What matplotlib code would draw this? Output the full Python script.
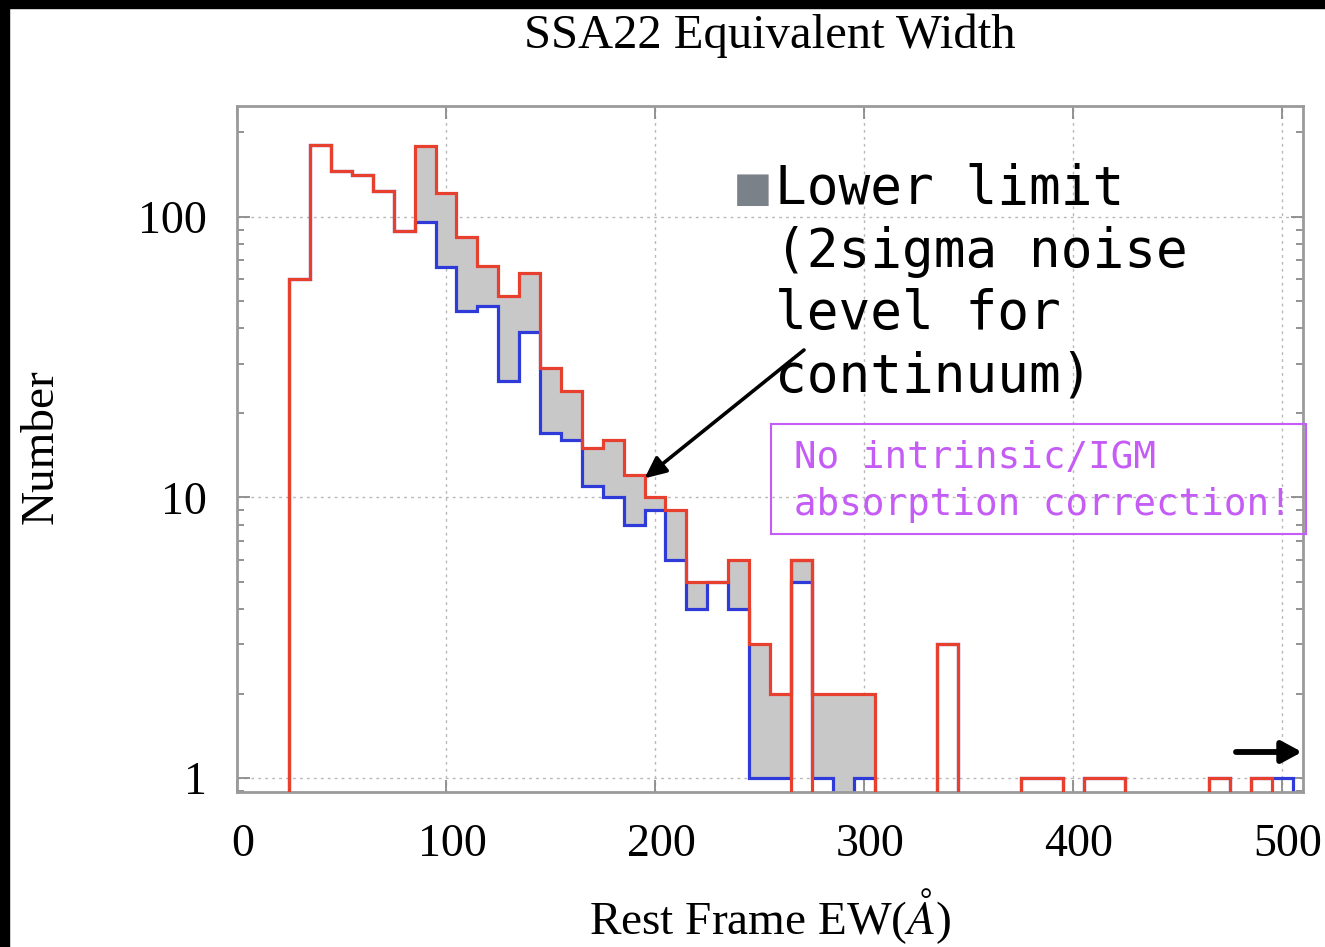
import numpy as np
import matplotlib
matplotlib.use("Agg")
import matplotlib.pyplot as plt
import matplotlib.transforms as mtransforms
from matplotlib.patches import Rectangle

# ---------------- data ----------------
bin_edges = np.arange(25, 506, 10)  # 25 ... 505, 48 bins
red_counts = [60, 180, 145, 141, 123, 89, 178, 121, 85, 67,
              52, 63, 29, 24, 15, 16, 12, 10, 9, 5,
              5, 6, 3, 2, 6, 2, 2, 2, 0, 0,
              0, 3, 0, 0, 0, 1, 1, 0, 1, 1,
              0, 0, 0, 0, 1, 0, 1, 0]
blue_counts = [60, 180, 145, 141, 123, 89, 96, 66, 46, 48,
               26, 39, 17, 16, 11, 10, 8, 9, 6, 4,
               5, 4, 1, 1, 5, 1, 0, 1, 0, 0,
               0, 3, 0, 0, 0, 1, 1, 0, 1, 1,
               0, 0, 0, 0, 1, 0, 1, 1]
red_full_outline_bins = [265]  # left edge of bins whose red outline drops to the axis

title = "SSA22 Equivalent Width"
xlabel = "Rest Frame EW($\\mathit{Å}$)"
ylabel = "Number"
xticks = [0, 100, 200, 300, 400, 500]
yticks = [1, 10, 100]
ytick_labels = ["1", "10", "100"]
note1 = "Lower limit\n(2sigma noise\nlevel for\ncontinuum)"
note2 = "No intrinsic/IGM\nabsorption correction!"

red_c = "#e8402f"
blue_c = "#2e3bd8"
fill_c = "#c8c8c8"
purple_c = "#c45cf5"

# ---------------- figure ----------------
plt.rcParams["mathtext.fontset"] = "stix"
serif = ["Liberation Serif", "DejaVu Serif"]
mono = ["DejaVu Sans Mono"]

W, H = 1325, 947
fig = plt.figure(figsize=(W / 100, H / 100), dpi=100)
L, R, T, B = 237, 1303, 106, 792
ax = fig.add_axes([L / W, 1 - B / H, (R - L) / W, (B - T) / H])

red = np.array(red_counts, dtype=float)
blue = np.array(blue_counts, dtype=float)
edges = np.array(bin_edges, dtype=float)

floor = np.maximum(blue, 0.5)
fill_top = np.where(red > blue, red, floor)
ax.stairs(fill_top, edges, baseline=floor, fill=True, color=fill_c, lw=0, zorder=1)
ax.stairs(blue, edges, baseline=0, color=blue_c, lw=2.3, zorder=2)
ax.stairs(red, edges, baseline=0, color=red_c, lw=2.3, zorder=3)
for b in red_full_outline_bins:
    i = int(np.where(edges == b)[0][0])
    ax.stairs(red[i:i + 1], edges[i:i + 2], baseline=0, color=red_c, lw=2.3, zorder=3)

ax.set_yscale("log")
ax.set_xlim(0, 510)
ax.set_ylim(0.893, 248)
ax.set_xticks(xticks)
ax.set_xticklabels([str(t) for t in xticks])
ax.set_yticks(yticks)
ax.set_yticklabels(ytick_labels)
ax.yaxis.set_minor_formatter(matplotlib.ticker.NullFormatter())

ax.grid(True, which="major", color="#b8b8b8", linestyle=(0, (2, 3)), lw=1.0)
ax.set_axisbelow(True)
for s in ax.spines.values():
    s.set_color("#9a9a9a")
    s.set_linewidth(2)
ax.tick_params(which="both", direction="in", top=True, right=True, color="#8a8a8a", width=1.3)
ax.tick_params(which="major", length=9)
ax.tick_params(which="minor", length=5)
ax.tick_params(axis="x", which="major", pad=23, labelsize=33)
ax.tick_params(axis="y", which="major", pad=22, labelsize=33)
shift = mtransforms.ScaledTranslation(6 / 100, 0, fig.dpi_scale_trans)
for lab in ax.get_xticklabels():
    lab.set_family(serif)
    lab.set_transform(lab.get_transform() + shift)
for lab in ax.get_yticklabels():
    lab.set_family(serif)
ax.tick_params(axis="x", which="minor", bottom=False, top=False)

ax.set_xlabel(xlabel, fontsize=34, family=serif)
ax.set_ylabel(ylabel, fontsize=34, family=serif)
ax.xaxis.set_label_coords(0.5, -0.137)
ax.yaxis.set_label_coords(-0.164, 0.503)

fig.text(770 / W, 1 - 36 / H, title, fontsize=35, family=serif, ha="center", va="center")

# annotations
def fx(px):
    return (px - L) / (R - L)

def fy(py):
    return (B - py) / (B - T)

ax.text(fx(775), fy(163), note1, transform=ax.transAxes, family=mono, fontsize=38,
        ha="left", va="top", linespacing=1.26, color="black", zorder=6)
ax.text(fx(737), fy(163), "■", transform=ax.transAxes, family=mono, fontsize=38,
        ha="left", va="top", color="#7b8189", zorder=6)

ax.annotate("", xy=(195, 11.7), xytext=(fx(804), fy(350)),
            xycoords="data", textcoords="axes fraction",
            arrowprops=dict(arrowstyle="-|>,head_length=1.3,head_width=0.6",
                            color="black", lw=2.6, shrinkA=0, shrinkB=0), zorder=6)
ax.annotate("", xy=(fx(1302), fy(752)), xytext=(fx(1236), fy(752)), xycoords="axes fraction",
            arrowprops=dict(arrowstyle="-|>,head_length=1.2,head_width=0.65",
                            color="black", lw=4.2, shrinkA=0, shrinkB=0),
            annotation_clip=False, zorder=6)

ax.text(fx(794), fy(440), note2, transform=ax.transAxes, family=mono, fontsize=27,
        ha="left", va="top", linespacing=1.38, color=purple_c, zorder=6)
fig.patches.append(Rectangle((771 / W, 1 - 534 / H), (1306 - 771) / W, (534 - 424) / H,
                             transform=fig.transFigure, fill=False, edgecolor=purple_c,
                             lw=1.5, zorder=6))

# black frame on top and left
fig.patches.append(Rectangle((0, 1 - 8 / H), 1, 8 / H, transform=fig.transFigure,
                             color="black", zorder=10))
fig.patches.append(Rectangle((0, 0), 9 / W, 1, transform=fig.transFigure,
                             color="black", zorder=10))

fig.savefig("out.png", dpi=100)
